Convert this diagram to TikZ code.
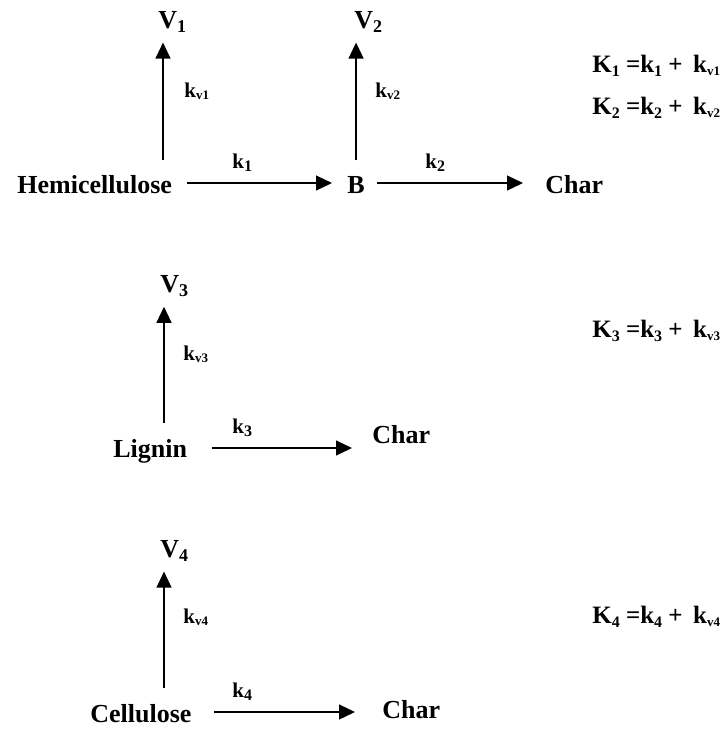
\documentclass[tikz,border=0pt]{standalone}
\usepackage{fontspec}
\setmainfont{Liberation Serif}
\usetikzlibrary{arrows.meta, positioning, calc}
\newcommand{\lsub}[1]{\raisebox{-0.35ex}{\fontsize{9}{10}\selectfont #1}}
\newcommand{\ksub}[1]{\raisebox{-0.3ex}{\fontsize{6.5}{7}\selectfont #1}}
\newcommand{\esub}[1]{\raisebox{-0.35ex}{\fontsize{8}{9}\selectfont #1}}

\begin{document}
\begin{tikzpicture}[
	x=0.5pt, y=-0.5pt,
	font=\fontsize{13}{15}\selectfont\bfseries,
	species/.style={inner sep=0pt, anchor=base west},
	rate/.style={inner sep=0pt, anchor=base west, font=\fontsize{10.5}{12}\selectfont\bfseries},
	sumeq/.style={inner sep=0pt, anchor=base west, font=\fontsize{12.5}{14}\selectfont\bfseries},
	flow/.style={-{Triangle[length=8pt,width=7.5pt]}, line width=0.6pt}
]
\useasboundingbox (0,0) rectangle (722,729);

% hemicellulose scheme
\node[species] (hemi) at (17,193) {Hemicellulose};
\node[species] (b) at (347,193) {B};
\node[species] (char1) at (545,193) {Char};
\node[species] (v1) at (158,28) {V\lsub{1}};
\node[species] (v2) at (354,28) {V\lsub{2}};
\node[rate] (kv1) at (184,97) {k\ksub{v1}};
\node[rate] (kv2) at (375,97) {k\ksub{v2}};
\node[rate] (k1) at (232,168) {k\esub{1}};
\node[rate] (k2) at (425,168) {k\esub{2}};
\node[sumeq] (eqa) at (592,72) {K\esub{1} =k\esub{1} +\ \,k\ksub{v1}};
\node[sumeq] (eqb) at (592,114) {K\esub{2} =k\esub{2} +\ \,k\ksub{v2}};
\coordinate (s1) at (163,160);

\draw[flow, shorten <=7.5pt, shorten >=7.5pt] ([yshift=5pt]hemi.base east) -- ([yshift=5pt]hemi.base east -| b.west);
\draw[flow, shorten <=6pt, shorten >=11pt] ([yshift=5pt]b.base east) -- ([yshift=5pt]b.base east -| char1.west);
\draw[flow, shorten >=5pt] (s1) -- (s1 |- v1.south);
\draw[flow, shorten <=8pt, shorten >=5pt] (b.north) -- (b.north |- v2.south);

% lignin scheme
\node[species] (lignin) at (113,457) {Lignin};
\node[species] (char3) at (372,443) {Char};
\node[species] (v3) at (160,292) {V\lsub{3}};
\node[rate] (kv3) at (183,360) {k\ksub{v3}};
\node[rate] (k3) at (232,433) {k\esub{3}};
\node[sumeq] (eqc) at (592,337) {K\esub{3} =k\esub{3} +\ \,k\ksub{v3}};
\coordinate (s3) at (164,423);

\draw[flow, shorten <=12pt, shorten >=10pt] ([yshift=4.5pt]lignin.base east) -- ([yshift=4.5pt]lignin.base east -| char3.west);
\draw[flow, shorten >=5pt] (s3) -- (s3 |- v3.south);

% cellulose scheme
\node[species] (cellu) at (90,722) {Cellulose};
\node[species] (char4) at (382,718) {Char};
\node[species] (v4) at (160,557) {V\lsub{4}};
\node[rate] (kv4) at (183,623) {k\ksub{v4}};
\node[rate] (k4) at (232,697) {k\esub{4}};
\node[sumeq] (eqd) at (592,623) {K\esub{4} =k\esub{4} +\ \,k\ksub{v4}};
\coordinate (s4) at (164,688);

\draw[flow, shorten <=11pt, shorten >=13.5pt] ([yshift=5pt]cellu.base east) -- ([yshift=5pt]cellu.base east -| char4.west);
\draw[flow, shorten >=5pt] (s4) -- (s4 |- v4.south);

\end{tikzpicture}
\end{document}
